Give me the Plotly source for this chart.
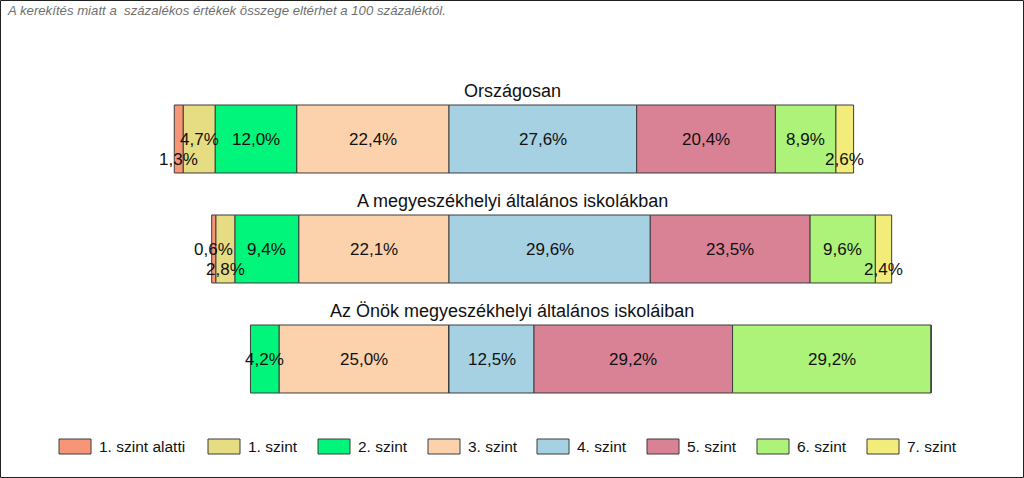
import plotly.graph_objects as go

# ---------------- data ----------------
groups = ["Országosan",
          "A megyeszékhelyi általános iskolákban",
          "Az Önök megyeszékhelyi általános iskoláiban"]
level_names = ["1. szint alatti", "1. szint", "2. szint", "3. szint",
               "4. szint", "5. szint", "6. szint", "7. szint"]
below1 = [1.3, 0.6, 0.0]
level1 = [4.7, 2.8, 0.0]
level2 = [12.0, 9.4, 4.2]
level3 = [22.4, 22.1, 25.0]
level4 = [27.6, 29.6, 12.5]
level5 = [20.4, 23.5, 29.2]
level6 = [8.9, 9.6, 29.2]
level7 = [2.6, 2.4, 0.0]
note = "A kerekítés miatt a  százalékos értékek összege eltérhet a 100 százaléktól."

# ---------------- styles ----------------
colors = ["#F79676", "#E6DC82", "#00F57A", "#FCD2AC",
          "#A6D1E3", "#D98296", "#ADF279", "#F2EC7B"]
FONT = "Liberation Sans, Arial, sans-serif"
# labels that are shifted below the bar centre (level index, group index)
drop_labels = {(0, 0), (7, 0), (1, 1), (7, 1)}

W, H = 1024, 478
ML, MR, MT, MB = 41, 31, 29, 9
XR = [-60, 80]
YR = [3, -1]


def px_x(p):
    return (p - ML) / (W - ML - MR)


def px_y(p):
    return (H - MB - p) / (H - MT - MB)


series = [below1, level1, level2, level3, level4, level5, level6, level7]
ypos = list(range(len(groups)))

fig = go.Figure()
# left (negative) side: level3 nearest zero, outwards to below1
order = [3, 2, 1, 0, 4, 5, 6, 7]
for li in order:
    sign = -1 if li <= 3 else 1
    fig.add_trace(go.Bar(
        y=ypos, x=[sign * v for v in series[li]], orientation="h",
        name=level_names[li], width=0.618,
        marker=dict(color=colors[li], line=dict(color="#3c3c3c", width=1)),
        showlegend=False, hoverinfo="skip"))

annotations = []


def label(v):
    return f"{v:.1f}".replace(".", ",") + "%"


# value labels, centred on each segment
for g in ypos:
    left = 0.0
    for li in [3, 2, 1, 0]:
        v = series[li][g]
        if v > 0:
            annotations.append(dict(
                x=-(left + v / 2), y=g + (0.19 if (li, g) in drop_labels else 0),
                xref="x", yref="y", text=label(v), showarrow=False,
                font=dict(family=FONT, size=17, color="#111111")))
        left += v
    right = 0.0
    for li in [4, 5, 6, 7]:
        v = series[li][g]
        if v > 0:
            annotations.append(dict(
                x=right + v / 2, y=g + (0.19 if (li, g) in drop_labels else 0),
                xref="x", yref="y", text=label(v), showarrow=False,
                font=dict(family=FONT, size=17, color="#111111")))
        right += v
    # group title
    annotations.append(dict(
        x=px_x(512), y=g - 0.436, xref="paper", yref="y", text=groups[g],
        showarrow=False, font=dict(family=FONT, size=18, color="#111111")))

# note at top
annotations.append(dict(
    x=px_x(5), y=px_y(11), xref="paper", yref="paper", xanchor="left",
    yanchor="middle", text=f"<i>{note}</i>", showarrow=False,
    font=dict(family=FONT, size=13.2, color="#707070")))

shapes = []
# manual legend
legend_left = [59, 208, 318, 428, 537, 647, 757, 867]
for li, lx in enumerate(legend_left):
    shapes.append(dict(type="rect", xref="paper", yref="paper",
                       x0=px_x(lx), x1=px_x(lx + 32), y0=px_y(454), y1=px_y(439),
                       fillcolor=colors[li], line=dict(color="#3c3c3c", width=1)))
    annotations.append(dict(
        x=px_x(lx + 38), y=px_y(446.5), xref="paper", yref="paper",
        xanchor="left", yanchor="middle", text=level_names[li], showarrow=False,
        font=dict(family=FONT, size=15.5, color="#111111")))

# outer frame
shapes.append(dict(type="rect", xref="paper", yref="paper",
                   x0=px_x(0.5), x1=px_x(1023.5), y0=px_y(477.5), y1=px_y(0.5),
                   line=dict(color="#202020", width=1), fillcolor="rgba(0,0,0,0)"))

fig.update_layout(
    width=W, height=H, barmode="relative",
    margin=dict(l=ML, r=MR, t=MT, b=MB, pad=0),
    paper_bgcolor="white", plot_bgcolor="white",
    xaxis=dict(range=XR, visible=False, fixedrange=True),
    yaxis=dict(range=YR, visible=False, fixedrange=True),
    annotations=annotations, shapes=shapes, showlegend=False,
    font=dict(family=FONT))

fig.write_html("out.html", config={"displayModeBar": False},
               post_script="document.body.style.margin='0';")
